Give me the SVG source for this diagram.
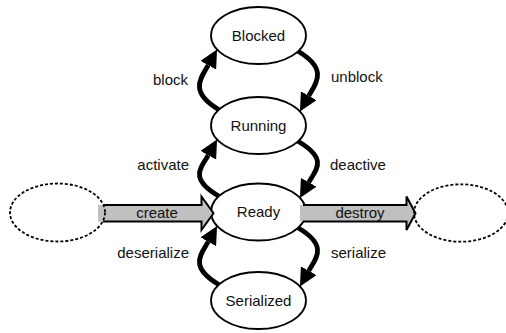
<svg xmlns="http://www.w3.org/2000/svg" width="506" height="333" viewBox="0 0 506 333">
  <defs>
    <style>
      .state { fill: #ffffff; stroke: #000000; stroke-width: 1.8; }
      .ext { fill: none; stroke: #000000; stroke-width: 1.8; stroke-dasharray: 3 2; }
      .name { font-family: "Liberation Sans", Arial, sans-serif; font-size: 15px; fill: #111111; text-anchor: middle; }
      .lbl { font-family: "Liberation Sans", Arial, sans-serif; font-size: 15px; fill: #111111; }
      .lbl.l { text-anchor: end; }
      .lbl.m { text-anchor: middle; }
      .arc { fill: none; stroke: #000000; stroke-width: 4.8; marker-end: url(#head); }
      .fat { fill: #c0c0c0; stroke: none; }
      .fat-edge { fill: none; stroke: #000000; stroke-width: 2; stroke-linejoin: miter; }
    </style>
    <!-- filled arrowhead; path ends at its base, the head extends beyond -->
    <marker id="head" markerUnits="userSpaceOnUse" viewBox="0 0 18 18" refX="0" refY="9" markerWidth="18" markerHeight="18" orient="auto">
      <path d="M0,0 L18,9 L0,18 Z" fill="#000000"/>
    </marker>
  </defs>

  <rect width="506" height="333" fill="#ffffff"/>

  <!-- states -->
  <g id="blocked">
    <ellipse class="state" cx="258.5" cy="35.5" rx="47.5" ry="28.5"/>
    <text class="name" x="258.5" y="40.8">Blocked</text>
  </g>
  <g id="running">
    <ellipse class="state" cx="258.5" cy="125.5" rx="47.5" ry="28.5"/>
    <text class="name" x="258.5" y="130.8">Running</text>
  </g>
  <g id="ready">
    <ellipse class="state" cx="258.5" cy="212" rx="47.5" ry="28.5"/>
    <text class="name" x="258.5" y="217.3">Ready</text>
  </g>
  <g id="serialized">
    <ellipse class="state" cx="258.5" cy="300.5" rx="47.5" ry="28.5"/>
    <text class="name" x="258.5" y="305.8">Serialized</text>
  </g>

  <!-- transitions -->
  <g id="connectors">
    <!-- Running -> Blocked / Blocked -> Running -->
    <path class="arc" d="M219,109.7 C188,91.5 201.4,77.4 208.25,65.2"/>
    <path class="arc" d="M298,51.3 C329,69.5 315.6,83.6 308.75,95.8"/>
    <!-- Ready -> Running / Running -> Ready -->
    <path class="arc" d="M219,196.2 C188,178 201.4,167.4 208.25,155.2"/>
    <path class="arc" d="M298,141.3 C329,159.5 315.6,170.1 308.75,182.3"/>
    <!-- Serialized -> Ready / Ready -> Serialized -->
    <path class="arc" d="M219,284.7 C188,266.5 201.4,253.9 208.25,241.7"/>
    <path class="arc" d="M298,227.8 C329,246 315.6,258.6 308.75,270.8"/>

    <!-- create: block arrow into Ready -->
    <path class="fat" d="M98,205 H201.5 V196.5 L213.5,213.25 L201.5,230 V221.5 H98 Z"/>
    <path class="fat-edge" d="M103,205 H201.5 V196.5 L213.5,213.25 L201.5,230 V221.5 H103"/>
    <!-- destroy: block arrow out of Ready -->
    <path class="fat" d="M300,205 H406.5 V196.5 L415.5,213.25 L406.5,230 V221.5 H300 Z"/>
    <path class="fat-edge" d="M303,205 H406.5 V196.5 L415.5,213.25 L406.5,230 V221.5 H303"/>

    <text class="lbl l" x="188" y="85">block</text>
    <text class="lbl" x="331" y="82">unblock</text>
    <text class="lbl l" x="189" y="170">activate</text>
    <text class="lbl" x="330" y="170">deactive</text>
    <text class="lbl l" x="189" y="258">deserialize</text>
    <text class="lbl" x="331" y="257.5">serialize</text>
    <text class="lbl m" x="157" y="217.5">create</text>
    <text class="lbl m" x="360" y="217.5">destroy</text>
  </g>

  <!-- outside endpoints -->
  <g id="origin">
    <ellipse class="ext" cx="57.5" cy="212.5" rx="47.5" ry="29"/>
  </g>
  <g id="terminus">
    <ellipse class="ext" cx="461" cy="213" rx="47" ry="28.7"/>
  </g>
</svg>
